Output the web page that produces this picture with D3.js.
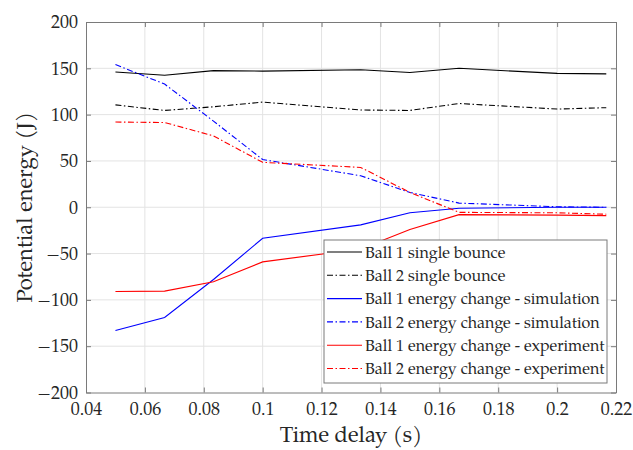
<!DOCTYPE html>
<html lang="en">
<head>
    <meta charset="UTF-8">
    <title>Potential energy vs time delay</title>
    <script src="https://d3js.org/d3.v7.min.js"></script>
    <style>
        body {
            margin: 0;
            background-color: #fff;
        }
        svg text {
            font-family: "Palatino Linotype", "TeX Gyre Pagella", "URW Palladio L", "Liberation Serif", serif;
            fill: #262626;
        }
    </style>
</head>
<body>
<div id="chart"></div>

<script>
    // time delays (s)
    const delays = [0.05, 0.0667, 0.0833, 0.1, 0.1333, 0.15, 0.1667, 0.2, 0.2167];

    const ball1Single = [146, 142.5, 147.5, 147, 148.5, 145.5, 150, 144.5, 144];
    const ball2Single = [110.5, 104.5, 108.5, 113.5, 105, 104.5, 112, 106, 107.5];
    const ball1Sim = [-133, -119, -78, -33.5, -19, -6, -1, 0, 0];
    const ball2Sim = [154, 133, 93, 51.5, 34, 16, 4.5, 0.5, 0];
    const ball1Exp = [-91, -90.5, -80.5, -59, -45, -24, -8, -8.5, -9];
    const ball2Exp = [92, 91.5, 77, 48.5, 43, 16, -5.5, -6, -7.5];

    const xTicks = [0.04, 0.06, 0.08, 0.1, 0.12, 0.14, 0.16, 0.18, 0.2, 0.22];
    const yTicks = [-200, -150, -100, -50, 0, 50, 100, 150, 200];

    const seriesNames = [
        "Ball 1 single bounce",
        "Ball 2 single bounce",
        "Ball 1 energy change - simulation",
        "Ball 2 energy change - simulation",
        "Ball 1 energy change - experiment",
        "Ball 2 energy change - experiment"
    ];
    const seriesValues = [ball1Single, ball2Single, ball1Sim, ball2Sim, ball1Exp, ball2Exp];
    const seriesColors = ["#000000", "#000000", "#0000ff", "#0000ff", "#ff0000", "#ff0000"];
    const seriesDashed = [false, true, false, true, false, true];

    const width = 633;
    const height = 450;
    const margin = {top: 22, right: 17, bottom: 58, left: 86};
    const dashDot = "6,2.5,1.5,2.5";

    const svg = d3.select("#chart")
        .append("svg")
        .attr("width", width)
        .attr("height", height);

    svg.append("rect")
        .attr("width", width)
        .attr("height", height)
        .attr("fill", "#fff");

    const x = d3.scaleLinear()
        .domain([0.04, 0.22])
        .range([margin.left, width - margin.right]);

    const y = d3.scaleLinear()
        .domain([-200, 200])
        .range([height - margin.bottom + 0.5, margin.top]);

    // grid
    svg.append("g")
        .selectAll("line")
        .data(xTicks.slice(1, -1))
        .enter()
        .append("line")
        .attr("x1", d => x(d)).attr("x2", d => x(d))
        .attr("y1", y(-200)).attr("y2", y(200))
        .attr("stroke", "#e3e3e3")
        .attr("stroke-width", 1);

    svg.append("g")
        .selectAll("line")
        .data(yTicks.slice(1, -1))
        .enter()
        .append("line")
        .attr("x1", x(0.04)).attr("x2", x(0.22))
        .attr("y1", d => y(d)).attr("y2", d => y(d))
        .attr("stroke", "#e3e3e3")
        .attr("stroke-width", 1);

    // axes (ticks inside, box on all sides)
    const bottomAxis = d3.axisBottom(x).tickValues(xTicks).tickSizeInner(-5).tickSizeOuter(0)
        .tickPadding(10).tickFormat(d => d3.format("~g")(d));
    const topAxis = d3.axisTop(x).tickValues(xTicks).tickSizeInner(-5).tickSizeOuter(0).tickFormat("");
    const leftAxis = d3.axisLeft(y).tickValues(yTicks).tickSizeInner(-5).tickSizeOuter(0)
        .tickPadding(8).tickFormat(d => d3.format("d")(d));
    const rightAxis = d3.axisRight(y).tickValues(yTicks).tickSizeInner(-5).tickSizeOuter(0).tickFormat("");

    const gb = svg.append("g").attr("transform", `translate(0,${y(-200)})`).call(bottomAxis);
    const gt = svg.append("g").attr("transform", `translate(0,${y(200)})`).call(topAxis);
    const gl = svg.append("g").attr("transform", `translate(${x(0.04)},0)`).call(leftAxis);
    const gr = svg.append("g").attr("transform", `translate(${x(0.22)},0)`).call(rightAxis);

    [gb, gt, gl, gr].forEach(g => {
        g.select(".domain").attr("stroke", "#7a7a7a").attr("stroke-width", 1);
        g.selectAll(".tick line").attr("stroke", "#7a7a7a");
        g.selectAll(".tick text").attr("font-size", "18px").attr("fill", "#262626")
            .attr("font-family", null);
    });

    // series lines
    const line = d3.line()
        .x((d, i) => x(delays[i]))
        .y(d => y(d));

    seriesValues.forEach((vals, i) => {
        svg.append("path")
            .datum(vals)
            .attr("d", line)
            .attr("fill", "none")
            .attr("stroke", seriesColors[i])
            .attr("stroke-width", 1.1)
            .attr("stroke-dasharray", seriesDashed[i] ? dashDot : null);
    });

    // axis labels
    svg.append("text")
        .attr("x", x(0.13))
        .attr("y", 442)
        .attr("text-anchor", "middle")
        .attr("font-size", "22px")
        .text("Time delay (s)");

    svg.append("text")
        .attr("transform", `translate(32,${y(0)}) rotate(-90)`)
        .attr("text-anchor", "middle")
        .attr("font-size", "22px")
        .text("Potential energy (J)");

    // legend
    const legend = svg.append("g").attr("transform", "translate(324,240)");
    legend.append("rect")
        .attr("width", 283)
        .attr("height", 143)
        .attr("fill", "#fff")
        .attr("stroke", "#7a7a7a")
        .attr("stroke-width", 1);

    seriesNames.forEach((name, i) => {
        const row = legend.append("g").attr("transform", `translate(0,${12 + i * 23.3})`);
        row.append("line")
            .attr("x1", 3).attr("x2", 38)
            .attr("y1", 0).attr("y2", 0)
            .attr("stroke", seriesColors[i])
            .attr("stroke-width", 1.1)
            .attr("stroke-dasharray", seriesDashed[i] ? dashDot : null);
        row.append("text")
            .attr("x", 41)
            .attr("y", 0)
            .attr("dy", "0.35em")
            .attr("font-size", "16px")
            .text(name);
    });
</script>
</body>
</html>
